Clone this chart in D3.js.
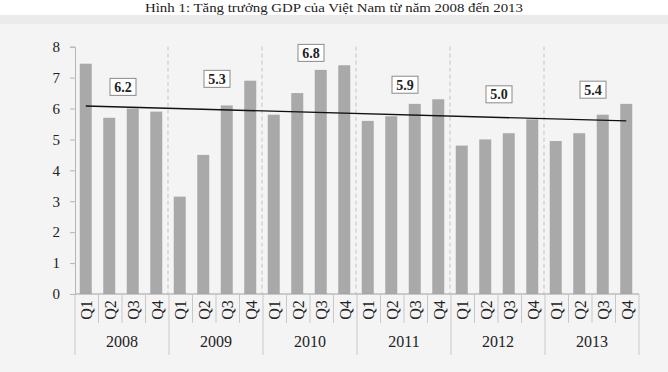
<!DOCTYPE html>
<html>
<head>
<meta charset="utf-8">
<script src="https://cdn.jsdelivr.net/npm/d3@7"></script>
<style>
  body { margin: 0; background: #fff; }
  text { font-family: "Liberation Serif", "DejaVu Serif", serif; }
</style>
</head>
<body>
<div id="chart"></div>
<script>
// data
const years = ["2008", "2009", "2010", "2011", "2012", "2013"];
const quarters = ["Q1", "Q2", "Q3", "Q4"];
const growth = [
  7.45, 5.7, 6.0, 5.9,
  3.15, 4.5, 6.1, 6.9,
  5.8, 6.5, 7.25, 7.4,
  5.6, 5.75, 6.15, 6.3,
  4.8, 5.0, 5.2, 5.65,
  4.95, 5.2, 5.8, 6.15
];
const yearGrowth = [6.2, 5.3, 6.8, 5.9, 5.0, 5.4];
// height (in % units) where each yearly label box sits
const yearLabelAt = [6.7, 6.96, 7.8, 6.77, 6.46, 6.61];
const yTicks = [0, 1, 2, 3, 4, 5, 6, 7, 8];
const title = "Hình 1: Tăng trưởng GDP của Việt Nam từ năm 2008 đến 2013";

const W = 668, H = 372;
const margin = { top: 46.7, right: 29, bottom: 78, left: 75 };
const width = W - margin.left - margin.right,
  height = H - margin.top - margin.bottom;

const svg = d3.select("#chart").append("svg")
  .attr("width", W).attr("height", H);

// scanned page look
svg.append("rect").attr("width", W).attr("height", H).attr("fill", "#f4f4f4");
svg.append("rect").attr("width", W).attr("height", 15).attr("fill", "#fff");
svg.append("rect").attr("y", 15).attr("width", W).attr("height", 9).attr("fill", "#ebebeb");

svg.append("text")
  .attr("x", 145).attr("y", 12)
  .attr("textLength", 378)
  .attr("lengthAdjust", "spacingAndGlyphs")
  .style("font-size", "12px")
  .attr("fill", "#222")
  .text(title);

const g = svg.append("g")
  .attr("transform", "translate(" + margin.left + "," + margin.top + ")");

const keys = [];
years.forEach(yr => quarters.forEach(q => keys.push(yr + "-" + q)));
const data = keys.map((k, i) => ({ key: k, year: k.slice(0, 4), q: k.slice(5), value: growth[i] }));

const x = d3.scaleBand().domain(keys).range([0, width]).paddingInner(0).paddingOuter(0);
const xYear = d3.scaleBand().domain(years).range([0, width]);
const y = d3.scaleLinear().domain([0, 8]).range([height, 0]);

// year separators (dashed)
g.selectAll(".sep")
  .data(years.slice(1))
  .join("line")
  .attr("class", "sep")
  .attr("x1", d => xYear(d) - 1).attr("x2", d => xYear(d) - 1)
  .attr("y1", 0).attr("y2", height)
  .attr("stroke", "#c4c4c4")
  .attr("stroke-width", 1)
  .attr("stroke-dasharray", "4,3");

// bars
const barW = 12;
g.selectAll(".bar")
  .data(data)
  .join("rect")
  .attr("class", "bar")
  .attr("x", d => x(d.key) + x.bandwidth() / 2 - barW / 2 - 1)
  .attr("y", d => y(d.value))
  .attr("width", barW)
  .attr("height", d => height - y(d.value))
  .attr("fill", "#a9a9a9");

// linear trend of the quarterly values
const n = growth.length;
const mx = d3.mean(growth, (d, i) => i);
const my = d3.mean(growth);
const slope = d3.sum(growth, (d, i) => (i - mx) * (d - my)) / d3.sum(growth, (d, i) => (i - mx) * (i - mx));
const trend = [0, n - 1].map(i => ({ key: keys[i], value: my + slope * (i - mx) + 0.04 }));
g.append("path")
  .datum(trend)
  .attr("fill", "none")
  .attr("stroke", "#111")
  .attr("stroke-width", 1.4)
  .attr("d", d3.line()
    .x(d => x(d.key) + x.bandwidth() / 2 - 1)
    .y(d => y(d.value)));

// yearly value boxes
const boxes = g.selectAll(".ybox")
  .data(years.map((yr, i) => ({ year: yr, value: yearGrowth[i], at: yearLabelAt[i] })))
  .join("g")
  .attr("class", "ybox")
  .attr("transform", d => "translate(" + (xYear(d.year) + xYear.bandwidth() / 2 + 1) + "," + y(d.at) + ")");
boxes.append("rect")
  .attr("x", -13).attr("y", -8.5)
  .attr("width", 26).attr("height", 17)
  .attr("fill", "#fff")
  .attr("stroke", "#8a8a8a")
  .attr("stroke-width", 1);
boxes.append("text")
  .attr("text-anchor", "middle")
  .attr("dy", "0.35em")
  .style("font-size", "14px")
  .style("font-weight", "bold")
  .attr("fill", "#222")
  .text(d => d.value.toFixed(1));

// y axis
const yAxis = g.append("g")
  .call(d3.axisLeft(y).tickValues(yTicks).tickSize(5).tickPadding(10));
yAxis.select(".domain").attr("stroke", "#b5b5b5");
yAxis.selectAll(".tick line").attr("stroke", "#b5b5b5");
yAxis.selectAll(".tick text")
  .style("font-size", "15px")
  .style("font-family", "'Liberation Serif', serif")
  .attr("fill", "#222");

// x axis line
g.append("line")
  .attr("x1", 0).attr("x2", width)
  .attr("y1", height).attr("y2", height)
  .attr("stroke", "#a0a0a0");

// quarter dividers + year dividers under the axis
g.selectAll(".qdiv")
  .data(keys.filter(k => !k.endsWith("Q1")))
  .join("line")
  .attr("class", "qdiv")
  .attr("x1", d => x(d)).attr("x2", d => x(d))
  .attr("y1", height).attr("y2", height + 29)
  .attr("stroke", "#c8c8c8");
g.selectAll(".ydiv")
  .data(years.concat(["end"]))
  .join("line")
  .attr("class", "ydiv")
  .attr("x1", d => d === "end" ? width : xYear(d))
  .attr("x2", d => d === "end" ? width : xYear(d))
  .attr("y1", height).attr("y2", height + 61)
  .attr("stroke", "#c8c8c8");

// quarter labels (rotated)
g.selectAll(".qlab")
  .data(data)
  .join("text")
  .attr("class", "qlab")
  .attr("transform", d => "translate(" + (x(d.key) + x.bandwidth() / 2) + "," + (height + 16) + ") rotate(-90)")
  .attr("text-anchor", "middle")
  .attr("dy", "0.35em")
  .style("font-size", "16px")
  .attr("fill", "#222")
  .text(d => d.q);

// year labels
g.selectAll(".ylab")
  .data(years)
  .join("text")
  .attr("class", "ylab")
  .attr("x", d => xYear(d) + xYear.bandwidth() / 2)
  .attr("y", height + 53)
  .attr("text-anchor", "middle")
  .style("font-size", "16px")
  .attr("fill", "#222")
  .text(d => d);
</script>
</body>
</html>
